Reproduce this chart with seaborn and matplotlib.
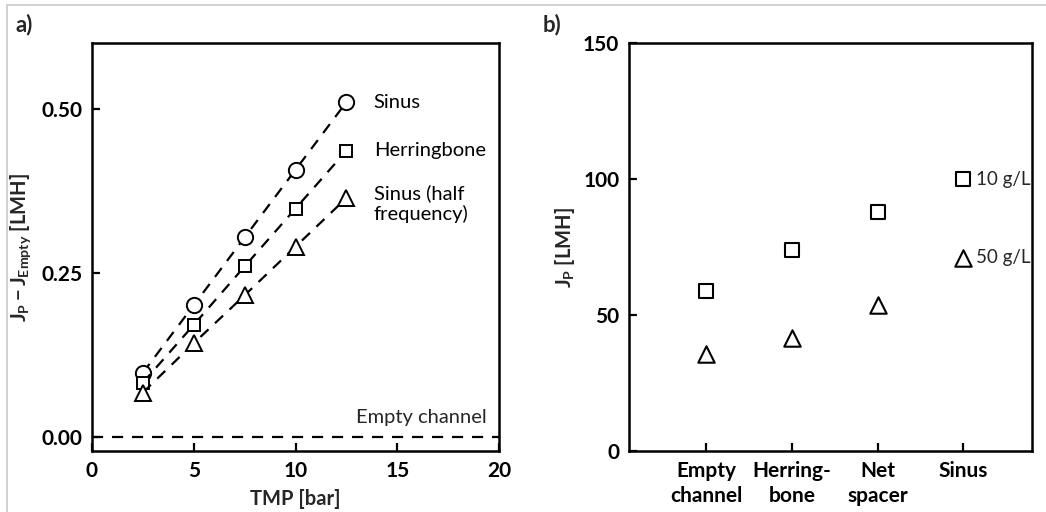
import numpy as np
import pandas as pd
import matplotlib
matplotlib.use("Agg")
import matplotlib.pyplot as plt
import seaborn as sns
from matplotlib.lines import Line2D

# ---------------- data ----------------
tmp = [2.5, 5.0, 7.5, 10.0, 12.5]
sinus = [0.098, 0.201, 0.304, 0.407, 0.510]
herringbone = [0.083, 0.171, 0.260, 0.348, 0.436]
sinus_half = [0.068, 0.143, 0.216, 0.290, 0.364]
series_names = ["Sinus", "Herringbone", "Sinus (half\nfrequency)"]

categories = ["Empty\nchannel", "Herring-\nbone", "Net\nspacer", "Sinus"]
flux_10 = [59.0, 74.0, 88.0]
flux_50 = [35.5, 41.5, 53.5]
legend_labels = ["10 g/L", "50 g/L"]
legend_values = [100.0, 71.0]

# ---------------- style ----------------
sns.set_theme(style="ticks")
plt.rcParams["font.family"] = ["Lato", "DejaVu Sans"]
plt.rcParams["mathtext.fontset"] = "custom"
plt.rcParams["mathtext.rm"] = "Lato"
plt.rcParams["mathtext.bf"] = "Lato:bold"
plt.rcParams["mathtext.it"] = "Lato:italic"

TICK_FS = 15
ANN_FS = 14.5
LAB_FS = 14.5

fig = plt.figure(figsize=(10.46, 5.12), dpi=100)
W, H = 1046, 512
ax1 = fig.add_axes([92 / W, 1 - 451 / H, 407 / W, 408 / H])
ax2 = fig.add_axes([629 / W, 1 - 451 / H, 403 / W, 408 / H])

# figure border (light gray)
fig.add_artist(Line2D([7 / W, 1.0], [1 - 5 / H, 1 - 5 / H], color="#c8c8c8", lw=1.2))
fig.add_artist(Line2D([7 / W, 7 / W], [0, 1 - 5 / H], color="#c8c8c8", lw=1.2))

dash = (0, (5, 4))
mk_kw = dict(markerfacecolor="white", markeredgecolor="black", markeredgewidth=1.4)

# ---------------- panel a ----------------
df_a = pd.DataFrame({
    "TMP": tmp * 3,
    "dJ": sinus + herringbone + sinus_half,
    "series": [series_names[0]] * 5 + [series_names[1]] * 5 + [series_names[2]] * 5,
})
markers_a = ["o", "s", "^"]
msizes_a = [11, 9, 11.5]
for name, m, ms in zip(series_names, markers_a, msizes_a):
    sub = df_a[df_a["series"] == name]
    sns.lineplot(data=sub, x="TMP", y="dJ", ax=ax1, color="black", lw=1.6,
                 linestyle=dash, marker=m, markersize=ms, **mk_kw, legend=False)
    yv = sub["dJ"].iloc[-1]
    if "\n" in name:
        ax1.text(13.85, yv + 0.021, name, fontsize=ANN_FS, va="top", ha="left",
                 color="black", linespacing=1.2)
    else:
        ax1.text(13.85, yv, name, fontsize=ANN_FS, va="center", ha="left", color="black")

ax1.axhline(0, color="black", lw=1.6, linestyle=dash)
ax1.text(19.4, 0.03, "Empty channel", ha="right", va="center", fontsize=ANN_FS)

ax1.set_xlim(0, 20)
ax1.set_ylim(-0.021, 0.60)
ax1.set_xticks([0, 5, 10, 15, 20])
ax1.set_yticks([0.0, 0.25, 0.50])
ax1.set_yticklabels(["0.00", "0.25", "0.50"])
ax1.set_xlabel("TMP [bar]", fontsize=LAB_FS, fontweight="bold", labelpad=6)
ax1.set_ylabel(r"$\mathbf{J_P - J_{Empty}}$ [LMH]", fontsize=LAB_FS, fontweight="bold", labelpad=6)

# ---------------- panel b ----------------
pos = list(range(len(flux_10)))
df_b = pd.DataFrame({
    "pos": pos * 2,
    "flux": flux_10 + flux_50,
    "conc": [legend_labels[0]] * 3 + [legend_labels[1]] * 3,
})
sns.scatterplot(data=df_b[df_b["conc"] == legend_labels[0]], x="pos", y="flux", ax=ax2,
                marker="s", s=90, facecolor="white", edgecolor="black", linewidth=1.5,
                legend=False, zorder=3)
sns.scatterplot(data=df_b[df_b["conc"] == legend_labels[1]], x="pos", y="flux", ax=ax2,
                marker="^", s=140, facecolor="white", edgecolor="black", linewidth=1.5,
                legend=False, zorder=3)
# in-plot legend at the Sinus position
leg_x = len(categories) - 1
ax2.scatter([leg_x], [legend_values[0]], marker="s", s=90, facecolor="white",
            edgecolor="black", linewidth=1.5, zorder=3)
ax2.scatter([leg_x], [legend_values[1]], marker="^", s=140, facecolor="white",
            edgecolor="black", linewidth=1.5, zorder=3)
for lab, v in zip(legend_labels, legend_values):
    ax2.text(leg_x + 0.15, v, lab, ha="left", va="center", fontsize=13.5)

ax2.set_xlim(-0.9, 3.8)
ax2.set_ylim(0, 150)
ax2.set_xticks(range(len(categories)))
ax2.set_xticklabels(categories, fontsize=TICK_FS, fontweight="bold", linespacing=1.35)
ax2.set_yticks([0, 50, 100, 150])
ax2.set_xlabel("")
ax2.set_ylabel(r"$\mathbf{J_P}$ [LMH]", fontsize=LAB_FS, fontweight="bold", labelpad=4)

for ax in (ax1, ax2):
    for sp in ax.spines.values():
        sp.set_visible(True)
        sp.set_linewidth(1.8)
        sp.set_color("black")
    ax.tick_params(direction="in", length=6, width=1.6, colors="black",
                   labelsize=TICK_FS, pad=7)
    for lab in ax.get_xticklabels() + ax.get_yticklabels():
        lab.set_fontweight("bold")
    ax.grid(False)
    ax.set_facecolor("white")

fig.text(15 / W, 1 - 25 / H, "a)", fontsize=16, fontweight="bold", va="center", ha="left")
fig.text(543 / W, 1 - 25 / H, "b)", fontsize=16, fontweight="bold", va="center", ha="left")

fig.savefig("out.png", dpi=100, facecolor="white")
